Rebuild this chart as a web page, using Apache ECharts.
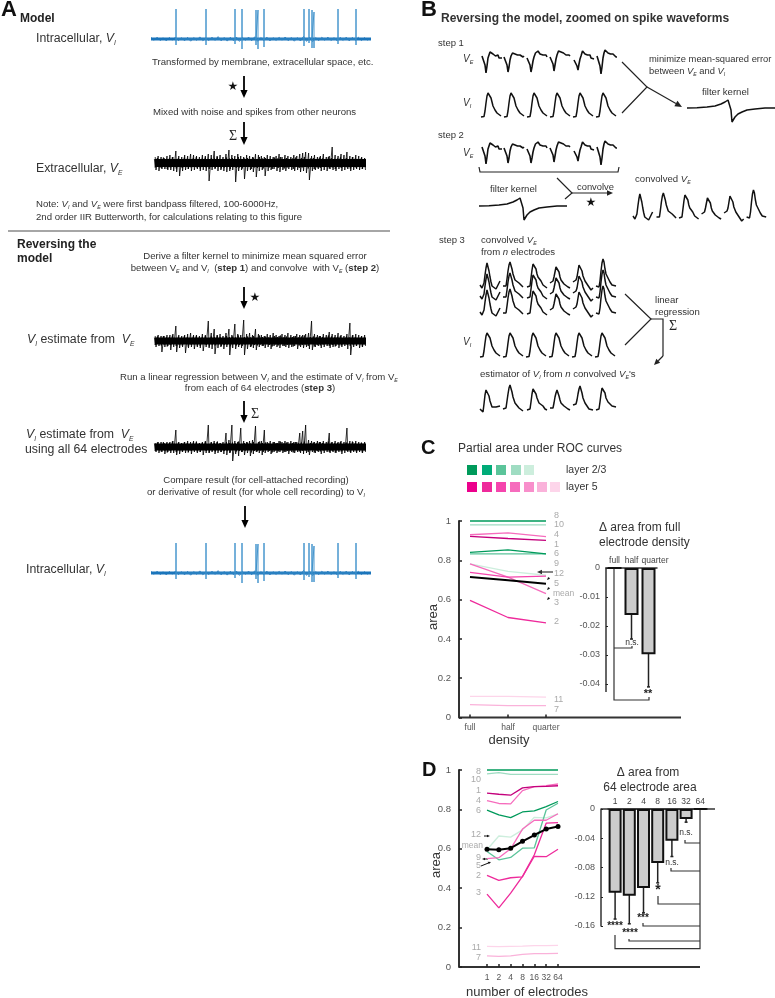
<!DOCTYPE html>
<html>
<head>
<meta charset="utf-8">
<style>
  html, body { margin: 0; padding: 0; background: #fff; }
  #main { width: 775px; height: 998px; }
</style>
</head>
<body>
<div id="main"></div>
<script src="https://cdn.jsdelivr.net/npm/echarts@6/dist/echarts.min.js"></script>
<script>
// intracellular trace: spike times and heights
const viSpikeT = [25, 55, 84, 91, 105, 107, 113, 153, 158, 161, 163, 187, 205];
const viSpikeUp = [30, 30, 30, 30, 29, 29, 30, 30, 30, 29, 27, 30, 30];
const viSpikeDown = [6, 6, 5, 10, 6, 10, 8, 7, 4, 9, 9, 5, 6];
const viNoise = [1.6, -1.3, 1.8, -1.5, 1.2, -1.9, 1.5, -1.2, 1.9, -1.6, 1.3, -1.8, 1.6, -2.2, 1.4, -1.3, 2.1, -1.7, 1.2, -1.5, 1.8, -1.4, 2.4, -1.8, 1.5, -2.1, 1.7, -1.6, 2, -2.4, 1.5, -1.3, 1.9, -1.8, 2.2, -2.3, 1.4, -1.6, 1.8, -1.9, 1.3, -1.4, 1.6, -1.2, 2, -1.7, 1.5, -2.2, 1.4, -2, 2.6, -2.4, 1.8, -2.6, 1.4, -1.6, 1.7, -1.3, 1.9, -1.5, 1.3, -1.7, 1.6, -1.4, 1.8, -1.9, 1.5, -1.3, 1.7, -1.6, 1.4, -1.5];

// extracellular style traces, one up and one down excursion every 3 px
const veUp = [6, 7, 6, 5, 7, 8, 6, 12, 7, 6, 8, 7, 9, 8, 7, 6, 8, 7, 9, 8, 12, 7, 8, 6, 9, 13, 8, 7, 9, 7, 6, 8, 7, 6, 9, 8, 7, 6, 8, 7, 6, 7, 9, 6, 8, 7, 6, 8, 7, 9, 10, 11, 10, 7, 8, 6, 7, 9, 6, 7, 16, 8, 7, 9, 8, 11, 7, 6, 8, 7, 6, 5];
const veDown = [7, 8, 6, 6, 7, 7, 8, 9, 13, 8, 7, 6, 8, 7, 6, 8, 7, 8, 18, 7, 6, 8, 7, 8, 9, 8, 7, 19, 8, 7, 16, 8, 7, 9, 14, 8, 7, 13, 8, 7, 6, 8, 9, 7, 8, 6, 7, 8, 7, 9, 8, 10, 17, 8, 7, 6, 8, 7, 8, 6, 7, 8, 6, 8, 7, 6, 8, 7, 6, 7, 6, 7];
const estUp = [5, 6, 5, 5, 6, 6, 7, 15, 6, 5, 6, 7, 8, 6, 6, 5, 7, 6, 20, 8, 12, 6, 7, 5, 8, 12, 6, 17, 7, 6, 21, 7, 8, 6, 12, 7, 6, 5, 7, 6, 8, 6, 5, 7, 6, 8, 6, 5, 7, 6, 6, 7, 8, 20, 7, 6, 5, 7, 6, 9, 7, 6, 8, 6, 5, 7, 18, 6, 7, 6, 5, 6];
const estDown = [6, 5, 11, 6, 5, 9, 6, 11, 7, 6, 12, 7, 6, 8, 6, 7, 10, 6, 7, 8, 13, 7, 6, 8, 6, 14, 7, 8, 6, 7, 14, 8, 6, 7, 9, 6, 5, 7, 6, 8, 5, 6, 7, 5, 6, 7, 6, 5, 8, 6, 7, 6, 8, 9, 6, 5, 7, 6, 5, 7, 6, 5, 7, 6, 5, 8, 14, 6, 5, 7, 6, 5];
const allUp = [4, 5, 5, 4, 5, 5, 6, 17, 5, 4, 5, 6, 5, 6, 5, 4, 5, 6, 22, 5, 6, 5, 4, 5, 14, 7, 22, 6, 5, 19, 6, 5, 6, 7, 21, 5, 6, 17, 5, 6, 5, 4, 6, 5, 6, 5, 6, 5, 5, 14, 16, 22, 7, 6, 5, 6, 5, 6, 5, 14, 5, 6, 5, 6, 5, 19, 6, 5, 6, 5, 4, 5];
const allDown = [5, 6, 5, 7, 5, 6, 6, 8, 7, 5, 6, 5, 7, 5, 6, 5, 8, 6, 6, 5, 7, 6, 5, 7, 8, 6, 14, 7, 9, 5, 8, 6, 9, 7, 5, 6, 8, 6, 5, 7, 5, 6, 5, 6, 5, 7, 5, 6, 5, 6, 7, 6, 8, 5, 6, 5, 7, 6, 5, 6, 5, 6, 5, 7, 6, 5, 6, 5, 6, 5, 6, 5];
// finer fuzz on the edge of the noise band, between the excursions above
const fuzzUp = [4, 5, 3.5, 5.5, 4, 4.5, 6, 3.5, 5, 4, 5.5, 4.5, 3.5, 5, 6, 4, 4.5, 5.5, 3.5, 5, 4.5, 6, 4, 3.5, 5.5, 4.5, 5, 4, 6, 3.5, 4.5, 5, 4, 5.5, 3.5, 6, 4.5, 5, 4, 3.5, 5.5, 4.5, 6, 4, 5, 3.5, 4.5, 5.5, 4, 5, 6, 3.5, 4.5, 5, 4, 5.5, 4.5, 3.5, 6, 5, 4, 4.5, 5.5, 3.5, 5, 4, 6, 4.5, 3.5, 5, 4];
const fuzzDown = [4.5, 3.5, 5, 4, 6, 4.5, 3.5, 5.5, 4, 5, 3.5, 6, 4.5, 4, 5, 5.5, 3.5, 4.5, 6, 4, 5, 3.5, 5.5, 4.5, 4, 6, 3.5, 5, 4.5, 5.5, 4, 3.5, 6, 4.5, 5, 4, 5.5, 3.5, 4.5, 6, 4, 5, 3.5, 5.5, 4.5, 4, 6, 3.5, 5, 4.5, 4, 5.5, 3.5, 6, 4.5, 5, 4, 3.5, 5.5, 4.5, 6, 4, 5, 3.5, 4.5, 5.5, 4, 5, 3.5, 6, 4.5];

// zoomed spike waveforms
const veT = [0, 1, 2, 3, 4, 5, 6, 7, 8, 8.5, 9, 9.5, 10, 11, 11.5, 12, 13, 13.5, 14, 15, 16, 17, 18, 19, 20];
const veWave1 = [2, 3, 1, -7, -15, -8, 0, 3, 6, 4, 6, 5, 7, 4, 6, 3, 4, 2, 3, 1, 3, 0, 1, -1, 0];
const veWave2 = [1, 2, 0, -7, -14, -9, -2, 2, 3, 5, 3, 6, 5, 4, 5, 3, 4, 3, 4, 2, 3, 2, 3, 1, 2];
const veWave3 = [0, 1, -1, -7, -14, -9, -3, 1, 3, 5, 4, 6, 4, 7, 5, 6, 4, 6, 3, 4, 3, 5, 2, 3, 1];
const veWave4 = [1, 2, 0, -6, -13, -7, -1, 3, 4, 7, 5, 7, 5, 6, 4, 6, 4, 5, 3, 5, 3, 4, 2, 3, 2];
const veWave5 = [-2, 0, -3, -8, -12, -6, -1, 2, 4, 7, 5, 8, 6, 4, 5, 3, 5, 3, 4, 1, 3, 0, 1, -2, -1];
const veWave6 = [2, 3, 1, -8, -16, -9, 0, 5, 8, 6, 9, 7, 8, 5, 6, 4, 6, 4, 5, 3, 4, 2, 3, 1, 1];
const viT = [0, 3, 4, 5, 6, 7, 8, 9, 10, 11, 12, 14, 16, 18, 20];
const viWave = [0, 0.5, 6, 14, 21, 24, 25, 23, 19, 15, 11, 7, 4, 2, 1];
const convT = [0, 2, 3, 4, 5, 6, 7, 8, 9, 10, 11, 12, 14, 16, 18, 20];
const conv1 = [4, 1, 0, 6, 14, 21, 26, 24, 18, 12, 7, 3, 1, 0, 4, 8];
const conv2 = [3, 1, 3, 10, 18, 24, 27, 25, 20, 15, 12, 9, 7, 6, 4, 2];
const conv3 = [2, 1, 3, 11, 19, 25, 27, 26, 20, 15, 12, 10, 8, 4, 2, 1];
const conv4 = [6, 7, 8, 12, 17, 22, 24, 22, 17, 12, 9, 7, 5, 3, 2, 1];
const conv5 = [7, 8, 9, 12, 18, 24, 26, 24, 18, 13, 11, 8, 6, 2, -1, 1];
const conv6 = [3, 1, 2, 8, 18, 26, 30, 27, 20, 15, 13, 11, 7, 4, 3, 3];
const est1 = [3, 1, 0, 8, 17, 22, 24, 22, 16, 11, 8, 5, 6, 5, 6, 6];
const est2 = [3, 3, 4, 11, 18, 24, 27, 25, 20, 15, 12, 9, 7, 4, 2, 1];
const est3 = [2, 1, 3, 10, 18, 23, 25, 24, 18, 14, 12, 9, 7, 6, 3, 2];
const est4 = [4, 2, 4, 9, 15, 19, 22, 20, 16, 12, 9, 7, 6, 4, 3, 2];
const est5 = [7, 7, 8, 12, 18, 23, 26, 24, 19, 14, 12, 9, 6, 3, 1, 2];
const est6 = [2, 0, 3, 10, 18, 24, 26, 25, 19, 14, 12, 10, 8, 6, 5, 5];
const kernelT = [0, 10, 20, 28, 34, 38, 41, 43, 44, 45, 46, 48, 51, 55, 60, 68, 78, 88];
const kernelV = [0, 0.3, 1, 2, 4, 6, 8, 9, -2, -14, -13, -9, -6, -4, -2, -1, 0, 0];

// panel C, area against electrode density
const densities = ['full', 'half', 'quarter'];
const rocC8 = [1, 1, 1];
const rocC10 = [0.98, 0.98, 0.98];
const rocC4 = [0.93, 0.94, 0.92];
const rocC1 = [0.922, 0.911, 0.901];
const rocC6 = [0.84, 0.853, 0.833];
const rocC9 = [0.833, 0.833, 0.833];
const rocC12 = [0.782, 0.744, 0.724];
const rocC3 = [0.782, 0.714, 0.63];
const rocC5 = [0.739, 0.714, 0.719];
const rocCMean = [0.715, 0.698, 0.681];
const rocC2 = [0.596, 0.509, 0.482];
const rocC11 = [0.107, 0.107, 0.104];
const rocC7 = [0.066, 0.06, 0.06];

const densityDelta = [0, -0.0162, -0.0297];
const densityErrLow = [null, -0.0245, -0.041];
const densityErrHigh = [null, -0.008, -0.0186];

// panel D, area against number of electrodes
const electrodes = ['1', '2', '4', '8', '16', '32', '64'];
const rocD8 = [1, 1, 1, 1, 1, 1, 1];
const rocD10 = [0.98, 0.987, 0.978, 0.978, 0.978, 0.978, 0.978];
const rocD1 = [0.883, 0.877, 0.872, 0.909, 0.916, 0.917, 0.92];
const rocD4 = [0.845, 0.83, 0.828, 0.895, 0.916, 0.92, 0.929];
const rocD6 = [0.796, 0.772, 0.758, 0.787, 0.792, 0.814, 0.84];
const rocD12 = [0.595, 0.665, 0.659, 0.696, 0.76, 0.757, 0.777];
const rocD9 = [0.586, 0.544, 0.556, 0.603, 0.605, 0.797, 0.831];
const rocD5 = [0.55, 0.555, 0.6, 0.7, 0.745, 0.745, 0.778];
const rocD3 = [0.37, 0.3, 0.375, 0.46, 0.57, 0.73, 0.733];
const rocD2 = [0.465, 0.44, 0.453, 0.458, 0.562, 0.56, 0.598];
const rocD11 = [0.105, 0.103, 0.105, 0.106, 0.108, 0.108, 0.11];
const rocD7 = [0.056, 0.054, 0.056, 0.064, 0.068, 0.068, 0.069];
const rocDMean = [0.598, 0.595, 0.603, 0.638, 0.67, 0.7, 0.713];

const electrodeDelta = [-0.1145, -0.1185, -0.108, -0.074, -0.0435, -0.0137, 0];
const electrodeErrLow = [-0.1505, -0.157, -0.142, -0.101, -0.065, -0.018, null];
const electrodeErrHigh = [-0.079, -0.079, -0.075, -0.0465, -0.023, -0.009, null];

const green = ['#009a5b', '#00ab78', '#5bc49a', '#9fdcc2', '#cdeedd'];
const pink = ['#ec008c', '#ee2a9b', '#f545ad', '#f66cbd', '#f88fcb', '#fab2da', '#fdd5ea'];

const FONT = '"Liberation Sans", Arial, sans-serif';
const SERIF = '"Liberation Serif", serif';
const BLUE = '#1b75bb';
const SPIKE_BLUE = '#3a8fca';

let grids = [], xAxes = [], yAxes = [], series = [], gfx = [];

function hiddenGrid(left, top, width, height, xMin, xMax, yMin, yMax) {
  grids.push({ left: left, top: top, width: width, height: height });
  xAxes.push({ type: 'value', show: false, min: xMin, max: xMax, gridIndex: grids.length - 1 });
  yAxes.push({ type: 'value', show: false, min: yMin, max: yMax, gridIndex: grids.length - 1 });
  return grids.length - 1;
}

function line(gridIdx, data, color, width, extra) {
  series.push(Object.assign({
    type: 'line', xAxisIndex: gridIdx, yAxisIndex: gridIdx, data: data, symbol: 'none',
    clip: false, silent: true, animation: false,
    lineStyle: { color: color, width: width }
  }, extra || {}));
}

// blue intracellular trace
function intracellular(left, centerY) {
  let g = hiddenGrid(left, centerY - 35, 220, 50, 0, 220, -15, 35);
  line(g, [[0, 0], [220, 0]], BLUE, 3);
  line(g, viNoise.map((v, i) => [i * 3.05, v]), BLUE, 0.8);
  let spikes = [[viSpikeT[0], 0]];
  viSpikeT.forEach((t, i) => {
    spikes.push([t, 0], [t, viSpikeUp[i]], [t, -viSpikeDown[i]], [t, 0]);
  });
  line(g, spikes, SPIKE_BLUE, 0.9);
}

// black noisy trace
function noisy(left, centerY, up, down, band) {
  let g = hiddenGrid(left, centerY - 25, 214, 50, 0, 214, -25, 25);
  line(g, [[1, 0], [212, 0]], '#000', band);
  let fuzz = [];
  fuzzUp.forEach((u, i) => {
    fuzz.push([i * 3 + 0.4, u + band / 2 - 4], [i * 3 + 1.2, -(fuzzDown[i] + band / 2 - 4)]);
  });
  line(g, fuzz, '#000', 0.8);
  let zig = [];
  up.forEach((u, i) => {
    zig.push([i * 2.95 + 1.2, u], [i * 2.95 + 2, -down[i]]);
  });
  line(g, zig, '#000', 0.8);
}

function waveRow(left, baseY, starts, ts, waves, width) {
  let g = hiddenGrid(left, baseY - 45, 145, 60, 0, 145, -15, 45);
  waves.forEach((w, i) => {
    line(g, ts.map((t, j) => [starts[i] + t, w[j]]), '#111', width || 1.5);
  });
}

function kernel(left, baseY) {
  let g = hiddenGrid(left, baseY - 20, 88, 40, 0, 88, -20, 20);
  line(g, kernelT.map((t, i) => [t, kernelV[i]]), '#111', 1.5);
}

function richStyles(size, color) {
  return {
    n: { fontFamily: FONT, fontSize: size, fill: color, lineHeight: size + 2 },
    b: { fontFamily: FONT, fontSize: size, fontWeight: 'bold', fill: color, lineHeight: size + 2 },
    i: { fontFamily: FONT, fontSize: size, fontStyle: 'italic', fill: color, lineHeight: size + 2 },
    s: { fontFamily: FONT, fontSize: size * 0.55, fontStyle: 'italic', fill: color, verticalAlign: 'bottom', lineHeight: size + 2, padding: [Math.round(size * 0.35), 0, 0, 0] }
  };
}

function txt(x, y, str, size, opt) {
  opt = opt || {};
  let color = opt.color || '#333';
  gfx.push({
    type: 'text', x: x, y: y, rotation: opt.rotation || 0, silent: true,
    style: {
      text: str, rich: richStyles(size, color), fill: color,
      font: (opt.bold ? 'bold ' : '') + size + 'px ' + (opt.family || FONT),
      align: opt.align || 'left', verticalAlign: 'middle'
    }
  });
}

function seg(points, color, width) {
  gfx.push({
    type: 'polyline', silent: true, shape: { points: points },
    style: { stroke: color || '#222', lineWidth: width || 1.2, fill: 'none' }
  });
}

function arrow(x1, y1, x2, y2, size, width, color) {
  color = color || '#000';
  let a = Math.atan2(y2 - y1, x2 - x1);
  let bx = x2 - size * Math.cos(a), by = y2 - size * Math.sin(a);
  seg([[x1, y1], [bx, by]], color, width);
  let w = size * 0.45;
  gfx.push({
    type: 'polygon', silent: true,
    shape: { points: [[x2, y2], [bx - w * Math.sin(a), by + w * Math.cos(a)], [bx + w * Math.sin(a), by - w * Math.cos(a)]] },
    style: { fill: color }
  });
}

function star(x, y, size) {
  txt(x, y, '★', size || 12, { color: '#111', family: '"DejaVu Sans", sans-serif', align: 'center' });
}

function sigma(x, y) {
  txt(x, y, 'Σ', 14, { color: '#222', family: SERIF, align: 'center' });
}

// ---- panel A traces
intracellular(151, 39);
noisy(154, 163, veUp, veDown, 8);
noisy(154, 341, estUp, estDown, 7);
noisy(154, 447, allUp, allDown, 7);
intracellular(151, 573);

// ---- panel B traces
const veWaves = [veWave1, veWave2, veWave3, veWave4, veWave5, veWave6];
const convWaves = [conv1, conv2, conv3, conv4, conv5, conv6];
const estWaves = [est1, est2, est3, est4, est5, est6];
const viWaves = [viWave, viWave, viWave, viWave, viWave, viWave];
const veStarts = [1, 23, 46, 69, 93, 116];
const viStarts = [0, 23, 46, 69, 92, 115];
waveRow(481, 58, veStarts, veT, veWaves, 1.6);
waveRow(481, 117, viStarts, viT, viWaves);
kernel(687, 108);
waveRow(481, 149, veStarts, veT, veWaves, 1.6);
kernel(479, 206);
waveRow(633, 220, [0, 24, 47, 70, 93, 116], convT, convWaves);
waveRow(480, 289, [0, 23, 47, 70, 93, 116], convT, convWaves);
waveRow(480, 300, [0, 23, 47, 70, 93, 116], convT, convWaves);
waveRow(480, 316, [0, 23, 47, 70, 93, 116], convT, convWaves);
waveRow(480, 357, viStarts, viT, viWaves);
waveRow(480, 412, [0, 23, 47, 70, 93, 116], convT, estWaves);

// ---- axis helpers for the real charts
const axisColor = '#333';
function areaGrid(left, top, width, height, cats, yOffset) {
  grids.push({ left: left, top: top, width: width, height: height });
  let g = grids.length - 1;
  xAxes.push({
    type: 'category', gridIndex: g, data: cats, boundaryGap: false,
    axisLine: { show: false },
    axisTick: { show: true, inside: true, length: 3, alignWithLabel: true, lineStyle: { color: '#222', width: 1.5 } },
    axisLabel: { color: '#555', fontSize: 8.5, fontFamily: FONT, margin: 6, interval: 0 }
  });
  yAxes.push({
    type: 'value', gridIndex: g, min: 0, max: 1, interval: 0.2, offset: yOffset, splitLine: { show: false },
    axisLine: { show: true, lineStyle: { color: axisColor, width: 2 } },
    axisTick: { show: true, inside: true, length: 3, lineStyle: { color: '#222', width: 1.5 } },
    axisLabel: { color: '#555', fontSize: 9.5, fontFamily: FONT, margin: 8 }
  });
  return g;
}

function deltaGrid(left, top, width, height, cats, yOffset, yMin, interval, labelFmt) {
  grids.push({ left: left, top: top, width: width, height: height });
  let g = grids.length - 1;
  xAxes.push({
    type: 'category', gridIndex: g, data: cats, position: 'top',
    axisLine: { show: true, onZero: false, lineStyle: { color: axisColor, width: 1.5 } },
    axisTick: { show: false },
    axisLabel: {
      color: '#444', fontSize: 8.5, fontFamily: FONT, margin: 3, interval: 0, hideOverlap: false,
      formatter: labelFmt,
      rich: { q: { color: '#444', fontSize: 8.5, fontFamily: FONT, padding: [0, 0, 0, 13] } }
    }
  });
  yAxes.push({
    type: 'value', gridIndex: g, min: yMin, max: 0, interval: interval, offset: yOffset, splitLine: { show: false },
    axisLine: { show: true, lineStyle: { color: axisColor, width: 1.5 } },
    axisTick: { show: true, inside: true, length: 2, lineStyle: { color: '#222' } },
    axisLabel: { color: '#555', fontSize: 9, fontFamily: FONT, margin: 6, formatter: v => String(v) }
  });
  return g;
}

function deltaBars(g, values, low, high, width) {
  series.push({
    type: 'bar', xAxisIndex: g, yAxisIndex: g, data: values, barWidth: width, animation: false, silent: true,
    itemStyle: { color: '#cccccc', borderColor: '#111', borderWidth: 2 }
  });
  series.push({
    type: 'custom', xAxisIndex: g, yAxisIndex: g, clip: false, animation: false, silent: true,
    data: low.map((l, i) => [i, l, high[i]]).filter(d => d[1] !== null),
    encode: { x: 0, y: [1, 2] },
    renderItem: function (params, api) {
      let a = api.coord([api.value(0), api.value(1)]);
      let b = api.coord([api.value(0), api.value(2)]);
      let st = { stroke: '#222', lineWidth: 1.5 };
      return {
        type: 'group', children: [
          { type: 'line', shape: { x1: a[0], y1: a[1], x2: b[0], y2: b[1] }, style: st },
          { type: 'line', shape: { x1: a[0] - 1.5, y1: a[1], x2: a[0] + 1.5, y2: a[1] }, style: st },
          { type: 'line', shape: { x1: b[0] - 1.5, y1: b[1], x2: b[0] + 1.5, y2: b[1] }, style: st }
        ]
      };
    }
  });
}

// ---- panel C
let gC = areaGrid(470, 521, 76, 196.5, densities, 11);
[[rocC12, green[4], 1.3], [rocC10, green[3], 1.3], [rocC9, green[2], 1.3], [rocC6, green[0], 1.3], [rocC8, green[0], 1.3],
 [rocC11, pink[6], 1.3], [rocC7, pink[5], 1.3], [rocC3, pink[3], 1.3], [rocC4, pink[3], 1.3], [rocC5, pink[2], 1.3],
 [rocC2, pink[1], 1.3], [rocC1, '#c4007c', 1.3], [rocCMean, '#000', 2]].forEach(r => {
  line(gC, r[0], r[1], r[2]);
});
let gCd = deltaGrid(606, 568, 51, 116, densities, 0, -0.04, 0.01, v => (v === 'quarter' ? '{q|quarter}' : v));
deltaBars(gCd, densityDelta, densityErrLow, densityErrHigh, 14);

// ---- panel D
let gD = areaGrid(487, 770, 71, 197, electrodes, 28);
[[rocD12, green[4], 1.3], [rocD10, green[3], 1.3], [rocD9, green[2], 1.3], [rocD6, green[0], 1.3], [rocD8, green[0], 1.3],
 [rocD11, pink[6], 1.3], [rocD7, pink[5], 1.3], [rocD5, pink[3], 1.3], [rocD4, pink[3], 1.3], [rocD3, pink[1], 1.3],
 [rocD2, pink[1], 1.3], [rocD1, '#c4007c', 1.3]].forEach(r => {
  line(gD, r[0], r[1], r[2]);
});
line(gD, rocDMean, '#000', 2, { symbol: 'circle', symbolSize: 5, showSymbol: true, itemStyle: { color: '#000' } });
let gDd = deltaGrid(608, 809, 99.4, 117, electrodes, 7, -0.16, 0.04, v => v);
deltaBars(gDd, electrodeDelta, electrodeErrLow, electrodeErrHigh, 13);

// ---- text and schematic parts, panel A
txt(1, 10, 'A', 22, { bold: true, color: '#111' });
txt(20, 19, 'Model', 12, { bold: true, color: '#222' });
txt(36, 39, '{n|Intracellular, }{i|V}{s|I}', 12.3);
txt(152, 62, 'Transformed by membrane, extracellular space, etc.', 9.6);
arrow(244, 76, 244, 98, 8, 1.8);
star(233, 87);
txt(153, 112, 'Mixed with noise and spikes from other neurons', 9.6);
arrow(244, 122, 244, 145, 8, 1.8);
sigma(233, 136);
txt(36, 169, '{n|Extracellular, }{i|V}{s|E}', 12.3);
txt(36, 204, '{n|Note: }{i|V}{s|I}{n| and }{i|V}{s|E}{n| were first bandpass filtered, 100-6000Hz,}', 9.6);
txt(36, 217, '2nd order IIR Butterworth, for calculations relating to this figure', 9.6);
seg([[8, 231], [390, 231]], '#888', 1.4);
txt(17, 245, 'Reversing the', 12, { bold: true, color: '#222' });
txt(17, 259, 'model', 12, { bold: true, color: '#222' });
txt(255, 256, 'Derive a filter kernel to minimize mean squared error', 9.6, { align: 'center' });
txt(255, 268, '{n|between V}{s|E}{n| and V}{s|I}{n|  (}{b|step 1}{n|) and convolve  with V}{s|E}{n| (}{b|step 2}{n|)}', 9.6, { align: 'center' });
arrow(244, 287, 244, 309, 8, 1.8);
star(255, 298);
txt(27, 340, '{i|V}{s|I}{n| estimate from  }{i|V}{s|E}', 12.3);
txt(120, 377, '{n|Run a linear regression between V}{s|I}{n| and the estimate of V}{s|I}{n| from V}{s|E}', 9.6);
txt(260, 388, '{n|from each of 64 electrodes (}{b|step 3}{n|)}', 9.6, { align: 'center' });
arrow(244, 401, 244, 423, 8, 1.8);
sigma(255, 414);
txt(26, 435, '{i|V}{s|I}{n| estimate from  }{i|V}{s|E}', 12.3);
txt(25, 450, 'using all 64 electrodes', 12.3);
txt(256, 480, 'Compare result (for cell-attached recording)', 9.6, { align: 'center' });
txt(256, 492, '{n|or derivative of result (for whole cell recording) to V}{s|I}', 9.6, { align: 'center' });
arrow(245, 506, 245, 528, 8, 1.8);
txt(26, 570, '{n|Intracellular, }{i|V}{s|I}', 12.3);

// panel B
txt(421, 10, 'B', 22, { bold: true, color: '#111' });
txt(441, 19, 'Reversing the model, zoomed on spike waveforms', 12, { bold: true, color: '#333' });
txt(438, 43, 'step 1', 9.5);
txt(463, 59, '{i|V}{s|E}', 10);
txt(463, 103, '{i|V}{s|I}', 10);
seg([[622, 62], [647, 87], [622, 113]], '#222', 1.2);
arrow(647, 87, 682, 107, 7, 1.2, '#222');
txt(649, 59, 'minimize mean-squared error', 9.4);
txt(649, 71, '{n|between }{i|V}{s|E}{n| and }{i|V}{s|I}', 9.4);
txt(702, 92, 'filter kernel', 9.6);
txt(438, 135, 'step 2', 9.5);
txt(463, 153, '{i|V}{s|E}', 10);
seg([[479, 167], [480, 172], [618, 172], [619, 167]], '#222', 1.2);
seg([[557, 178], [572, 193], [565, 199]], '#222', 1.2);
arrow(572, 193, 613, 193, 6, 1.2, '#222');
txt(577, 187, 'convolve', 9.4);
star(591, 203, 12);
txt(490, 189, 'filter kernel', 9.6);
txt(635, 179, '{n|convolved }{i|V}{s|E}', 9.6);
txt(439, 240, 'step 3', 9.5);
txt(481, 240, '{n|convolved }{i|V}{s|E}', 9.6);
txt(481, 252, '{n|from }{i|n}{n| electrodes}', 9.6);
txt(463, 342, '{i|V}{s|I}', 10);
seg([[625, 294], [651, 319], [625, 345]], '#222', 1.2);
seg([[651, 319], [663, 319], [663, 356]], '#222', 1.2);
arrow(663, 356, 654, 365, 6, 1.2, '#222');
txt(655, 300, 'linear', 9.6);
txt(655, 312, 'regression', 9.6);
sigma(673, 326);
txt(480, 374, "{n|estimator of }{i|V}{s|I}{n| from }{i|n}{n| convolved }{i|V}{s|E}{n|'s}", 9.6);

// panel C furniture
txt(421, 448, 'C', 20, { bold: true, color: '#111' });
txt(458, 449, 'Partial area under ROC curves', 12);
[467, 482, 496, 511, 524].forEach((x, i) => {
  gfx.push({ type: 'rect', silent: true, shape: { x: x, y: 465, width: 10, height: 10 }, style: { fill: green[i] } });
});
[467, 482, 496, 510, 524, 537, 550].forEach((x, i) => {
  gfx.push({ type: 'rect', silent: true, shape: { x: x, y: 482, width: 10, height: 10 }, style: { fill: pink[i] } });
});
txt(566, 470, 'layer 2/3', 10.5);
txt(566, 487, 'layer 5', 10.5);
seg([[459, 717.5], [681, 717.5]], axisColor, 2);
txt(433, 617, 'area', 13, { rotation: Math.PI / 2, align: 'center' });
txt(509, 740, 'density', 13, { align: 'center' });
[['8', 516], ['10', 525], ['4', 535], ['1', 545], ['6', 554], ['9', 564], ['12', 574], ['5', 584], ['3', 603], ['2', 622], ['11', 700], ['7', 710]].forEach(l => {
  txt(554, l[1], l[0], 9, { color: '#aaa' });
});
txt(553, 594, 'mean', 8.5, { color: '#aaa' });
arrow(553, 572, 537, 572, 5, 1.2, '#333');
arrow(549, 578, 547, 580, 3, 1, '#111');
arrow(549, 588, 547, 590, 3, 1, '#111');
arrow(549, 598, 547, 600, 3, 1, '#111');
txt(599, 528, '{n|Δ area from full}', 12);
txt(599, 543, 'electrode density', 12);
seg([[606, 684], [606, 692]], axisColor, 1.5);
seg([[614, 568], [614, 700], [649, 700], [649, 697]], '#333', 1.2);
seg([[614, 648], [632, 648], [632, 646]], '#333', 1.2);
txt(632, 643, 'n.s.', 8.5, { align: 'center' });
txt(648, 694, '**', 11, { align: 'center', bold: true, color: '#222' });

// panel D furniture
txt(422, 770, 'D', 20, { bold: true, color: '#111' });
seg([[459, 967], [700, 967]], axisColor, 2);
txt(436, 865, 'area', 13, { rotation: Math.PI / 2, align: 'center' });
txt(527, 992, 'number of electrodes', 13, { align: 'center' });
[['8', 772], ['10', 780], ['1', 791], ['4', 801], ['6', 811], ['12', 835], ['9', 858], ['5', 866], ['2', 876], ['3', 893], ['11', 948], ['7', 958]].forEach(l => {
  txt(481, l[1], l[0], 9, { color: '#aaa', align: 'right' });
});
txt(483, 846, 'mean', 8.5, { color: '#aaa', align: 'right' });
arrow(484, 836, 490, 836, 3, 1, '#111');
arrow(488, 859, 482, 859, 3, 1, '#111');
arrow(481, 866, 491, 862, 3, 1, '#111');
txt(648, 773, 'Δ area from', 12, { align: 'center' });
txt(650, 788, '64 electrode area', 12, { align: 'center' });
seg([[601, 809], [715, 809]], axisColor, 1.5);
seg([[700, 809], [700, 948.7], [615, 948.7], [615, 935]], '#333', 1.2);
seg([[700, 843], [685, 843], [685, 840]], '#333', 1.2);
seg([[700, 871], [671, 871], [671, 868]], '#333', 1.2);
seg([[700, 904], [658, 904], [658, 896]], '#333', 1.2);
seg([[700, 926], [643, 926], [643, 923]], '#333', 1.2);
seg([[700, 941], [629, 941], [629, 939]], '#333', 1.2);
txt(686, 833, 'n.s.', 8.5, { align: 'center' });
txt(672, 863, 'n.s.', 8.5, { align: 'center' });
txt(658, 890, '*', 14, { align: 'center', bold: true, color: '#222' });
txt(643, 918, '***', 10, { align: 'center', bold: true, color: '#222' });
txt(630, 933, '****', 10, { align: 'center', bold: true, color: '#222' });
txt(615, 926, '****', 10, { align: 'center', bold: true, color: '#222' });

let myChart = echarts.init(document.getElementById('main'));
myChart.setOption({
  animation: false,
  backgroundColor: '#fff',
  grid: grids,
  xAxis: xAxes,
  yAxis: yAxes,
  series: series,
  graphic: { elements: gfx }
});
</script>
</body>
</html>
